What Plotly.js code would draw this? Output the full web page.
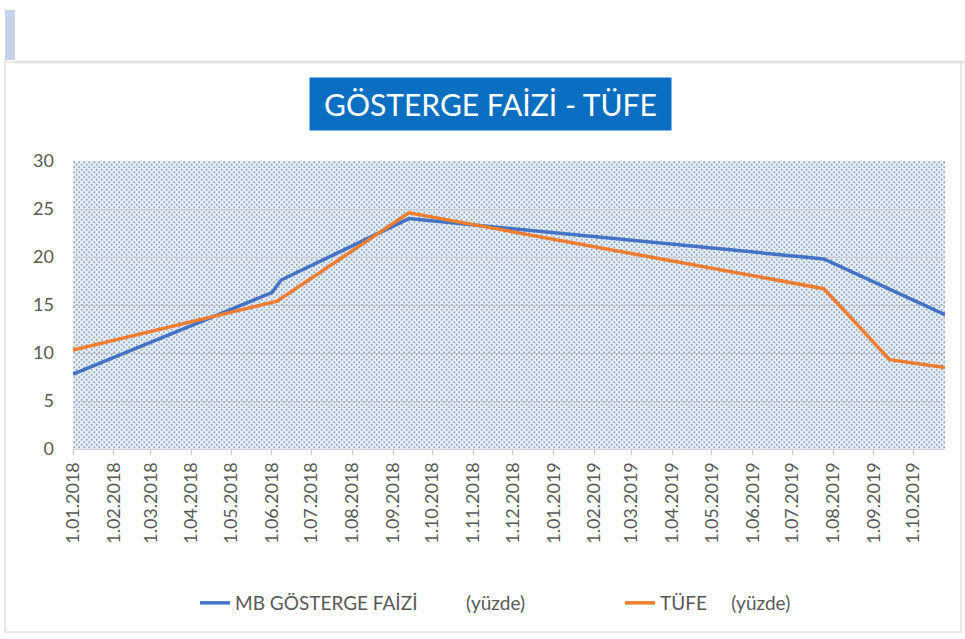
<!DOCTYPE html>
<html>
<head>
<meta charset="utf-8">
<script src="https://cdn.plot.ly/plotly-3.0.1.min.js"></script>
<style>
html,body{margin:0;padding:0;background:#fff;}
#chart{width:965px;height:639px;}
</style>
</head>
<body>
<div id="chart"></div>
<script>
// ---- Data ----
const mbDates   = ['2018-01-01','2018-06-01','2018-06-08','2018-09-13','2019-07-25','2019-10-25'];
const mbValues  = [7.8, 16.3, 17.6, 24.0, 19.8, 14.0];
const tufeDates = ['2018-01-01','2018-06-05','2018-09-13','2019-07-25','2019-09-13','2019-10-25'];
const tufeValues= [10.3, 15.4, 24.6, 16.7, 9.3, 8.5];
const seriesNames = ['MB GÖSTERGE FAİZİ\u00a0\u00a0\u00a0\u00a0\u00a0\u00a0\u00a0\u00a0\u00a0\u00a0(yüzde)', 'TÜFE\u00a0\u00a0\u00a0\u00a0\u00a0(yüzde)'];
const chartTitle = 'GÖSTERGE FAİZİ - TÜFE';
const xRange = ['2018-01-01','2019-10-25'];
const yTicks = [0,5,10,15,20,25,30];

// ---- layout helpers (pixel -> paper) ----
const W=965,H=639, L=73, R=20, T=161, B=190;
const PW=W-L-R, PH=H-T-B;
const px=x=>(x-L)/PW, py=y=>(H-B-y)/PH;

const svg = '<svg xmlns="http://www.w3.org/2000/svg" width="872" height="288">'+
  '<defs><pattern id="p" width="5" height="5" patternUnits="userSpaceOnUse">'+
  '<rect width="5" height="5" fill="#e4eef9"/>'+
  '<circle cx="1.2" cy="1.2" r="0.95" fill="#93a2b6"/>'+
  '<circle cx="3.7" cy="3.7" r="0.95" fill="#93a2b6"/>'+
  '</pattern></defs><rect width="872" height="288" fill="url(#p)"/></svg>';
const bgURL = 'data:image/svg+xml;charset=utf-8,' + encodeURIComponent(svg);

const traces = [
  {x: mbDates, y: mbValues, name: seriesNames[0], type:'scatter', mode:'lines',
   line:{color:'#4472c4', width:3.5}, legend:'legend'},
  {x: tufeDates, y: tufeValues, name: seriesNames[1], type:'scatter', mode:'lines',
   line:{color:'#ed7d31', width:3.5}, legend:'legend2'}
];

const font = 'Lato, "Open Sans", "Liberation Sans", sans-serif';
const legendFont = {size:19, color:'#595959', family:font};
const layout = {
  width:W, height:H,
  margin:{l:L, r:R, t:T, b:B, pad:0},
  paper_bgcolor:'#ffffff',
  plot_bgcolor:'#e4eef9',
  showlegend:true,
  font:{family:font, color:'#595959', size:16},
  xaxis:{
    type:'date', range:xRange,
    tick0:'2018-01-01', dtick:'M1', tickformat:'%-d.%m.%Y',
    tickangle:-90, ticks:'outside', ticklen:5, tickcolor:'#c8c8c8',
    showgrid:false, showline:true, linecolor:'#d0d0d0', linewidth:1,
    tickfont:{size:18, color:'#595959', family:font}, zeroline:false
  },
  yaxis:{
    range:[0,30], tickvals:yTicks, ticks:'', ticklabelstandoff:18,
    showgrid:true, gridcolor:'#c4c8cc', gridwidth:1,
    showline:false, zeroline:false,
    tickfont:{size:18, color:'#595959', family:font}
  },
  legend:{
    orientation:'h', x:px(195), xanchor:'left', y:py(603), yanchor:'middle',
    font:legendFont, bgcolor:'rgba(0,0,0,0)'
  },
  legend2:{
    orientation:'h', x:px(620), xanchor:'left', y:py(603), yanchor:'middle',
    font:legendFont, bgcolor:'rgba(0,0,0,0)'
  },
  images:[{source:bgURL, xref:'paper', yref:'paper', x:0, y:1, sizex:1, sizey:1,
           sizing:'stretch', layer:'below', xanchor:'left', yanchor:'top'}],
  shapes:[
    {type:'rect', xref:'paper', yref:'paper', x0:px(5), x1:px(15), y0:py(60), y1:py(10),
     fillcolor:'#c6d3ea', line:{width:0}},
    {type:'rect', xref:'paper', yref:'paper', x0:px(5), x1:px(961), y0:py(632), y1:py(62),
     fillcolor:'rgba(0,0,0,0)', line:{color:'#e4e4e4', width:1.5}},
    {type:'line', xref:'paper', yref:'paper', x0:px(15), x1:px(965), y0:py(62), y1:py(62),
     line:{color:'#e2e2e2', width:3}}
  ],
  annotations:[{
    text: chartTitle, xref:'paper', yref:'paper', x:px(490), y:py(104),
    xanchor:'center', yanchor:'middle', showarrow:false,
    bgcolor:'#0b6fc1', width:355, height:46, borderpad:3,
    font:{family:font, size:30, color:'#ffffff'}
  }]
};

Plotly.newPlot('chart', traces, layout, {displayModeBar:false, staticPlot:true});
</script>
</body>
</html>
